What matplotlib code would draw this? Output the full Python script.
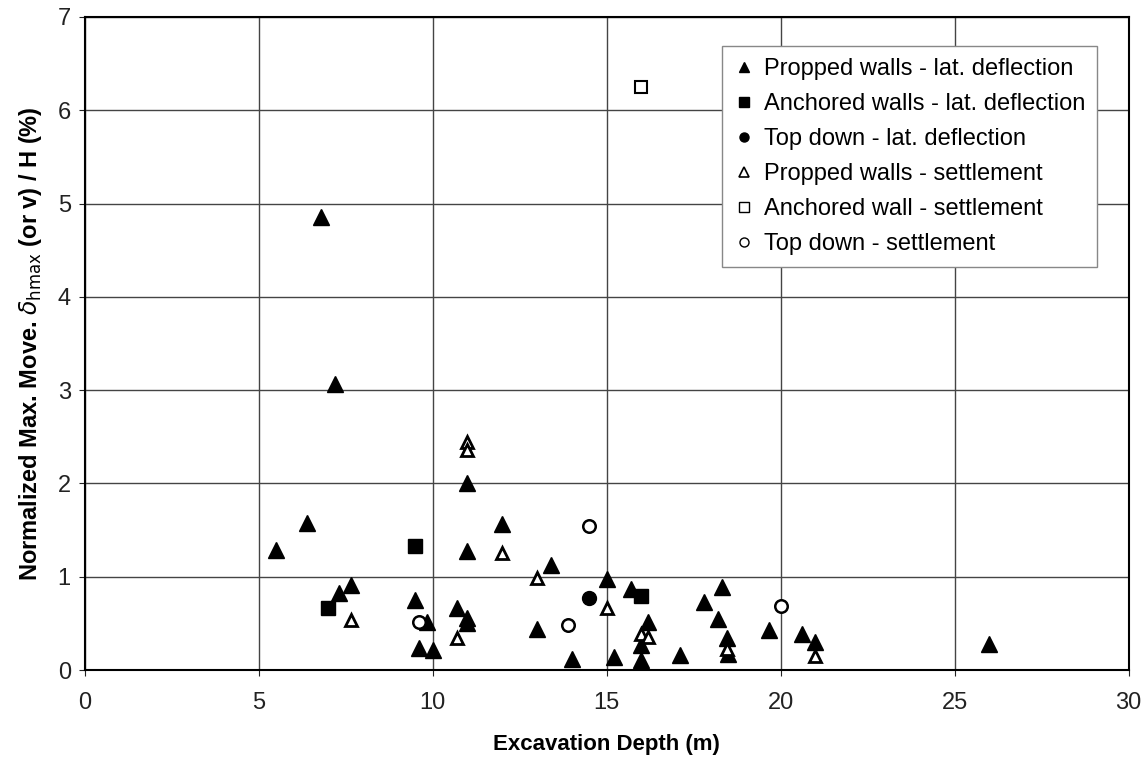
import matplotlib
matplotlib.use('Agg')
import matplotlib.pyplot as plt
from matplotlib.lines import Line2D

plt.rcParams['font.family'] = ['Liberation Sans', 'DejaVu Sans']

# excavation depth (m) and normalized max. movement (%) per group
propped_lat_x = [5.5, 6.4, 6.8, 7.2, 7.3, 7.65, 9.5, 9.83, 9.6, 10.0, 10.7, 11.0, 11.0,
                 11.0, 11.0, 12.0, 13.4, 13.0, 15.0, 15.7, 14.0, 15.2, 16.0, 16.0, 16.2,
                 17.1, 17.8, 18.3, 18.2, 18.45, 18.5, 19.65, 20.6, 21.0, 26.0]
propped_lat_y = [1.29, 1.58, 4.86, 3.07, 0.83, 0.91, 0.75, 0.52, 0.24, 0.21, 0.66, 0.56, 0.5,
                 1.28, 2.01, 1.57, 1.13, 0.44, 0.98, 0.87, 0.12, 0.14, 0.11, 0.27, 0.51,
                 0.16, 0.73, 0.89, 0.55, 0.34, 0.17, 0.43, 0.39, 0.30, 0.28]

anchored_lat_x = [7.0, 9.5, 16.0]
anchored_lat_y = [0.66, 1.33, 0.79]

topdown_lat_x = [14.5]
topdown_lat_y = [0.77]

propped_set_x = [7.65, 10.7, 11.0, 11.0, 12.0, 13.0, 15.0, 16.0, 16.2, 18.45, 21.0]
propped_set_y = [0.54, 0.34, 2.44, 2.36, 1.25, 0.99, 0.67, 0.39, 0.35, 0.23, 0.15]

anchored_set_x = [16.0]
anchored_set_y = [6.25]

topdown_set_x = [9.6, 13.9, 14.5, 20.0]
topdown_set_y = [0.51, 0.48, 1.54, 0.69]

labels = ['Propped walls - lat. deflection', 'Anchored walls - lat. deflection',
          'Top down - lat. deflection', 'Propped walls - settlement',
          'Anchored wall - settlement', 'Top down - settlement']

fig = plt.figure(figsize=(11.46, 7.62), dpi=100)
ax = fig.add_axes([0.0739, 0.1207, 0.9110, 0.8570])

filled = dict(color='black', ls='none')
hollow = dict(mfc='white', mec='black', ls='none')
ax.plot(propped_lat_x, propped_lat_y, '^', ms=11, **filled)
ax.plot(anchored_lat_x, anchored_lat_y, 's', ms=10, **filled)
ax.plot(topdown_lat_x, topdown_lat_y, 'o', ms=10, **filled)
ax.plot(propped_set_x, propped_set_y, '^', mew=2, ms=9, **hollow)
ax.plot(anchored_set_x, anchored_set_y, 's', mew=1.5, ms=9, **hollow)
ax.plot(topdown_set_x, topdown_set_y, 'o', mew=1.8, ms=9, **hollow)

ax.set_xlim(0, 30)
ax.set_ylim(0, 7)
ax.set_xticks(range(0, 31, 5))
ax.set_yticks(range(0, 8))
ax.grid(True, color='#444444', lw=1)
ax.set_axisbelow(True)
for s in ax.spines.values():
    s.set_linewidth(1.5)
ax.tick_params(axis='both', direction='out', length=4, labelsize=17, colors='#222222')
ax.tick_params(axis='x', pad=12)
ax.tick_params(axis='y', pad=6)

lab_font = dict(family=['Liberation Sans Narrow', 'Liberation Sans', 'DejaVu Sans'],
                fontweight='bold')
ax.set_xlabel('Excavation Depth (m)', labelpad=14, fontsize=16, **lab_font)
ax.set_ylabel(r'Normalized Max. Move. $\delta_{\mathrm{hmax}}$ (or v) / H (%)',
              labelpad=10, fontsize=17, **lab_font)

# small legend keys, like the plotting software draws them
handles = [Line2D([], [], marker='^', ms=7, **filled),
           Line2D([], [], marker='s', ms=6.5, **filled),
           Line2D([], [], marker='o', ms=6.5, **filled),
           Line2D([], [], marker='^', ms=7, mew=1.2, **hollow),
           Line2D([], [], marker='s', ms=6.5, mew=1.0, **hollow),
           Line2D([], [], marker='o', ms=6.5, mew=1.0, **hollow)]
leg = ax.legend(handles, labels, loc='upper right', bbox_to_anchor=(0.970, 0.955),
                fontsize=17, handletextpad=0.4, handlelength=0.9,
                labelspacing=0.55, fancybox=False, framealpha=1,
                edgecolor='#888888', borderpad=0.5, borderaxespad=0)
leg.get_frame().set_linewidth(1)

fig.savefig('out.png', dpi=100)
